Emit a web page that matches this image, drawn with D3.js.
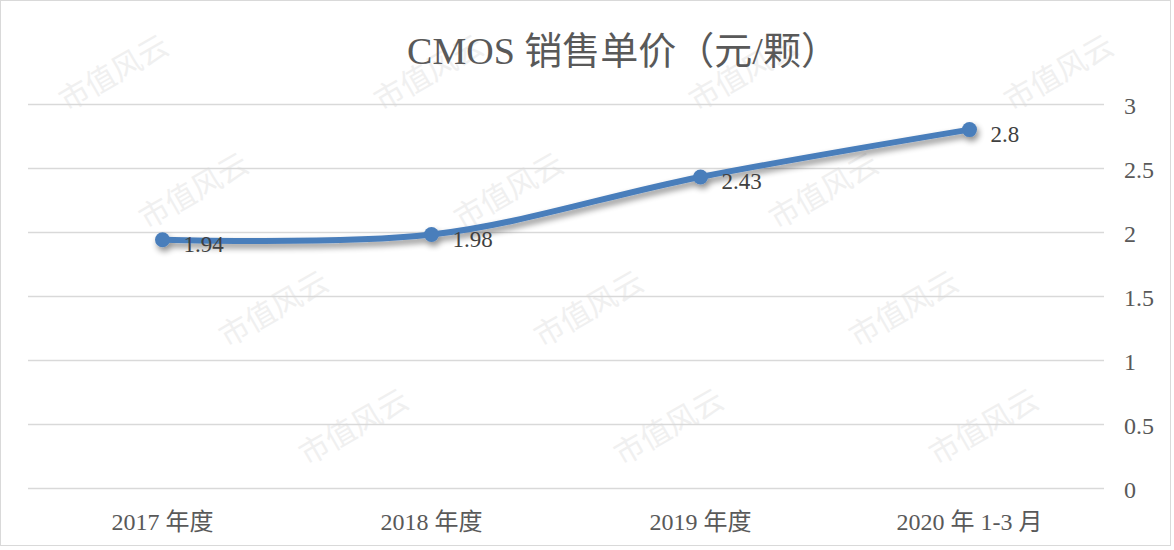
<!DOCTYPE html>
<html><head><meta charset="utf-8">
<script src="https://cdn.jsdelivr.net/npm/d3@7"></script>
<style>
html,body{margin:0;padding:0;background:#fff;}
svg{display:block;}
</style></head>
<body>
<svg id="chart" width="1174" height="550"></svg>
<script>
const categories = ["2017 年度", "2018 年度", "2019 年度", "2020 年 1-3 月"];
const values = [1.94, 1.98, 2.43, 2.8];
const valueLabels = ["1.94", "1.98", "2.43", "2.8"];
const yTicks = [0, 0.5, 1, 1.5, 2, 2.5, 3];
const yTickLabels = ["0", "0.5", "1", "1.5", "2", "2.5", "3"];
const title = "CMOS 销售单价（元/颗）";
const watermark = "市值风云";

const W = 1174, H = 550;
const svg = d3.select("#chart");
const serif = "'Liberation Serif','Times New Roman','Noto Sans CJK SC',serif";

// border
svg.append("rect").attr("x",0.5).attr("y",0.5).attr("width",W-4).attr("height",H-5)
  .attr("fill","#fff").attr("stroke","#d9d9d9").attr("stroke-width",1);

// watermark (decorative)
const wm = svg.append("g").attr("fill","#f0f0f0").style("font-family","'Noto Sans CJK SC',sans-serif").style("font-size","30px");
for (let r = 0; r < 5; r++) {
  for (let c = -1; c < 5; c++) {
    const x = 115 + c*315 + r*80;
    const y = 75 + r*118;
    wm.append("text").attr("transform",`translate(${x},${y}) rotate(-30)`).attr("text-anchor","middle").attr("dominant-baseline","middle").text(watermark);
  }
}
wm.selectAll("text").each(function(){
  const b = this.getBoundingClientRect();
  if (b.left < 3 || b.top < 3 || b.right > W-6 || b.bottom > H-6) d3.select(this).remove();
});

const plotL = 28, plotR = 1104, plotT = 104, plotB = 488;
const x = d3.scaleBand().domain(categories).range([plotL, plotR]);
const y = d3.scaleLinear().domain([0, 3]).range([plotB, plotT]);

// gridlines
svg.append("g").selectAll("line").data(yTicks).join("line")
  .attr("x1", plotL).attr("x2", plotR)
  .attr("y1", d => Math.round(y(d))+0.5).attr("y2", d => Math.round(y(d))+0.5)
  .attr("stroke","#d9d9d9").attr("stroke-width",1.5);

// right y axis labels
const yAxis = d3.axisRight(y).tickValues(yTicks).tickSize(0).tickPadding(0)
  .tickFormat((d,i) => yTickLabels[i]);
const ya = svg.append("g").attr("transform",`translate(1124,2)`).call(yAxis);
ya.select(".domain").remove();
ya.selectAll("text").attr("fill","#595959").style("font-family",serif).style("font-size","24px");

// x axis labels
const xAxis = d3.axisBottom(x).tickSize(0).tickPadding(0);
const xa = svg.append("g").attr("transform",`translate(0,${plotB+25})`).call(xAxis);
xa.select(".domain").remove();
xa.selectAll("text").attr("fill","#595959").style("font-family",serif).style("font-size","24px");

// title
svg.append("text").attr("x", 623).attr("y", 64).attr("text-anchor","middle")
  .attr("fill","#595959").style("font-family",serif).style("font-size","38px").text(title);

// shadow filter
const defs = svg.append("defs");
const f = defs.append("filter").attr("id","sh").attr("x","-10%").attr("y","-50%").attr("width","120%").attr("height","200%");
f.append("feGaussianBlur").attr("in","SourceAlpha").attr("stdDeviation",3).attr("result","b");
f.append("feOffset").attr("in","b").attr("dx",2).attr("dy",4).attr("result","o");
f.append("feComponentTransfer").attr("in","o").attr("result","o2").append("feFuncA").attr("type","linear").attr("slope",0.45);
const m = f.append("feMerge"); m.append("feMergeNode").attr("in","o2"); m.append("feMergeNode").attr("in","SourceGraphic");

const pts = categories.map((c,i) => [x(c) + x.bandwidth()/2, y(values[i])]);
const line = d3.line().curve(d3.curveCatmullRom.alpha(0.5));
const g = svg.append("g").attr("filter","url(#sh)");
g.append("path").attr("d", line(pts)).attr("fill","none").attr("stroke","#4a7ebb").attr("stroke-width",6).attr("stroke-linecap","round");
g.selectAll("circle").data(pts).join("circle").attr("cx",d=>d[0]).attr("cy",d=>d[1]).attr("r",7.5).attr("fill","#4a7ebb");

// data labels
svg.append("g").selectAll("text").data(pts).join("text")
  .attr("x", d => d[0] + 21).attr("y", d => d[1] + 12)
  .attr("fill","#404040").style("font-family",serif).style("font-size","23px")
  .text((d,i) => valueLabels[i]);
</script>
</body></html>
